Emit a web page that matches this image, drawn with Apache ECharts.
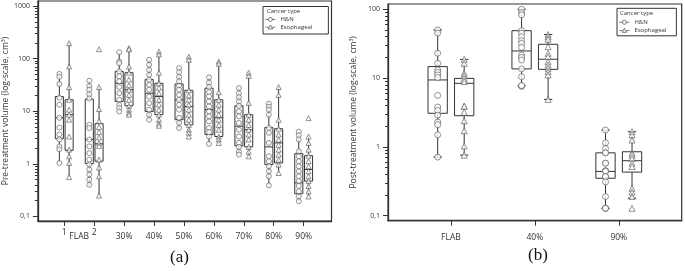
<!DOCTYPE html>
<html>
<head>
<meta charset="utf-8">
<script src="https://cdn.jsdelivr.net/npm/echarts@6/dist/echarts.min.js"></script>
<style>
  html, body { margin: 0; padding: 0; background: #fff; }
  #chart { width: 685px; height: 271px; }
</style>
</head>
<body>
<div id="chart"></div>
<script>
// categories
const catsA = ['FLAB 1', 'FLAB 2', '30%', '40%', '50%', '60%', '70%', '80%', '90%'];
const tickLabelsA = ['1', '2', '30%', '40%', '50%', '60%', '70%', '80%', '90%'];
const catsB = ['FLAB', '40%', '90%'];
const yTicksA = [0.1, 1, 10, 100, 1000];
const yTicksB = [0.1, 1, 10, 100];

// box stats: [low whisker, Q1, median, Q3, high whisker]
const preHN = [
  [1.04, 3.0, 7.5, 19, 51],
  [0.38, 1.01, 2.9, 17, 38],
  [9.9, 15.3, 34, 57, 132],
  [6.9, 9.9, 22, 40, 95],
  [4.8, 6.9, 16.5, 33, 66],
  [2.4, 3.6, 10.7, 27.4, 44],
  [1.5, 2.2, 5.2, 12.7, 27.5],
  [0.39, 0.97, 2.1, 4.9, 13.9],
  [0.195, 0.27, 0.435, 1.56, 4.1]
];
const preEso = [
  [0.56, 1.81, 8.6, 16.5, 201],
  [0.25, 1.12, 2.4, 5.8, 28.8],
  [8.6, 12.7, 25.6, 54, 158],
  [5.3, 8.6, 19, 34, 136],
  [3.3, 5.5, 12.3, 25, 109],
  [2.5, 3.3, 7.5, 16.5, 88],
  [1.39, 2.1, 4.45, 8.6, 54],
  [0.67, 1.04, 2.5, 4.65, 28.8],
  [0.24, 0.47, 0.78, 1.43, 3.3]
];
const postHN = [
  [0.71, 3.08, 9.4, 14.7, 50],
  [7.7, 13.6, 24.8, 48.9, 100],
  [0.128, 0.35, 0.44, 0.82, 1.76]
];
const postEso = [
  [0.76, 2.84, 8.4, 9.9, 18.7],
  [4.9, 13.4, 18.8, 31, 43],
  [0.18, 0.43, 0.63, 0.85, 1.66]
];

// individual patients
const preHNPts = [
  [51, 45, 33, 18, 13.3, 7.5, 4.9, 3.6, 2.9, 2.15, 1.9, 1.04],
  [38, 30, 25.6, 21, 17.5, 5.5, 4.8, 2.9, 2.15, 1.6, 1.2, 0.97, 0.78, 0.63, 0.5, 0.4],
  [132, 88, 82, 57, 46, 37, 29, 22, 16.5, 13.3, 11.5, 9.9],
  [95, 76, 61, 49, 39.6, 31.7, 25.6, 19, 14.2, 10.7, 8.6, 6.9],
  [66, 55, 45, 37, 30.5, 25.6, 20.5, 16.5, 13.3, 10.7, 7.5, 6, 4.8],
  [44, 35, 29, 23, 19.1, 15.3, 12.3, 9.9, 8, 6.4, 4.8, 4, 3.3, 2.4],
  [27.5, 22, 18.5, 15.3, 12.7, 9.9, 8, 6, 4.45, 3.3, 2.5, 2.1, 1.7, 1.5],
  [13.9, 12.2, 10.7, 8.6, 4.8, 3.9, 2.5, 1.39, 1.12, 0.9, 0.72, 0.58, 0.39],
  [4.1, 3.5, 2.9, 1.73, 1.39, 1.12, 0.9, 0.72, 0.58, 0.47, 0.38, 0.3, 0.24, 0.195]
];
const preEsoPts = [
  [196, 71, 28.8, 16.5, 10.7, 8.6, 6.9, 3.3, 1.86, 1.39, 1.04, 0.56],
  [151, 28.8, 11, 6.5, 5, 4, 3.2, 2.5, 2.2, 1.2, 0.85, 0.58, 0.25],
  [158, 150, 71, 54, 40, 31, 25.6, 20.5, 16.5, 12.7, 10.7, 9.3, 8.6],
  [136, 120, 54, 34, 28, 22, 16.5, 13.5, 10.7, 8.6, 6.9, 5.8, 5.3],
  [109, 95, 25, 19.7, 16.5, 13.3, 10.7, 8.6, 6.9, 5.5, 4.45, 3.9, 3.3],
  [88, 80, 23, 16.5, 13.3, 10.7, 8.6, 6.9, 5.5, 4.45, 3.3, 2.9, 2.5],
  [54, 47, 14.4, 8.6, 6.9, 5.5, 4.45, 3.6, 2.9, 2.1, 1.7, 1.39],
  [28.8, 20.5, 6.9, 4.65, 3.6, 2.9, 2.3, 1.86, 1.5, 1.2, 0.97, 0.67],
  [7.4, 3.3, 2.5, 1.86, 1.43, 1.12, 0.9, 0.72, 0.58, 0.47, 0.38, 0.3, 0.24]
];
const postHNPts = [
  [50, 45, 23, 16.4, 13.1, 12.1, 11.1, 10.2, 5.6, 3.8, 3.4, 2.9, 2.3, 2.1, 1.5, 0.71],
  [100, 89, 83, 49, 45, 40, 35, 32, 28, 21.7, 20, 18.3, 13.6, 10.5, 7.6, 7.7, 7.8],
  [1.76, 1.15, 0.95, 0.82, 0.82, 0.58, 0.58, 0.45, 0.45, 0.44, 0.37, 0.37, 0.31, 0.19, 0.128, 0.128, 0.128]
];
const postEsoPts = [
  [18.7, 16.4, 11.8, 10.8, 9.8, 8.9, 3.9, 3.9, 3.2, 2.4, 1.72, 1.03, 0.76],
  [43, 40, 36.7, 28.6, 22.9, 20.5, 17.3, 15.5, 13.9, 12.4, 11.1, 4.9],
  [1.66, 1.49, 1.26, 0.81, 0.76, 0.68, 0.58, 0.52, 0.25, 0.22, 0.19, 0.128]
];

const FONT = 'Open Sans';
const INK = '#333';

// minor log ticks 2..9 in each decade
function minorTicks(from, to) {
  const out = [];
  for (let d = from; d < to; d *= 10) {
    for (let k = 2; k <= 9; k++) out.push(+(d * k).toPrecision(3));
  }
  return out;
}

// box + whiskers via custom series
function boxRenderer(bw, cap) {
  return function (params, api) {
    const x = api.value(0);
    const px = (xx, v) => api.coord([xx, v]);
    const lo = px(x, api.value(1)), q1 = px(x, api.value(2)), md = px(x, api.value(3));
    const q3 = px(x, api.value(4)), hi = px(x, api.value(5));
    const l = px(x - bw / 2, 1)[0], r = px(x + bw / 2, 1)[0];
    const cl = px(x - cap / 2, 1)[0], cr = px(x + cap / 2, 1)[0];
    const st = { stroke: INK, lineWidth: 1, fill: null };
    const kids = [
      { type: 'line', shape: { x1: lo[0], y1: lo[1], x2: q1[0], y2: q1[1] }, style: st },
      { type: 'line', shape: { x1: q3[0], y1: q3[1], x2: hi[0], y2: hi[1] }, style: st },
      { type: 'rect', shape: { x: l, y: q3[1], width: r - l, height: q1[1] - q3[1] }, style: st },
      { type: 'line', shape: { x1: l, y1: md[1], x2: r, y2: md[1] }, style: st }
    ];
    if (cap > 0) {
      kids.push({ type: 'line', shape: { x1: cl, y1: lo[1], x2: cr, y2: lo[1] }, style: st });
      kids.push({ type: 'line', shape: { x1: cl, y1: hi[1], x2: cr, y2: hi[1] }, style: st });
    }
    return { type: 'group', children: kids };
  };
}

function boxData(stats, off) {
  return stats.map((s, i) => [i + 1 + off].concat(s));
}
function ptsData(pts, off) {
  const out = [];
  pts.forEach((arr, i) => arr.forEach(v => out.push([i + 1 + off, v])));
  return out;
}

const offA = 0.163, bwA = 0.27;
const offB = 0.158, bwB = 0.23;

const labelA = {};
tickLabelsA.forEach((t, i) => { labelA[i + 1] = (i < 2) ? t + '\n ' : t; });
labelA[1.5] = 'FLAB';

function yAxisPair(grid, ymin, ymax, ticks, minors, name, gap) {
  return [{
    type: 'log', gridIndex: grid, position: 'left', min: ymin, max: ymax,
    name: name, nameLocation: 'middle', nameGap: gap,
    nameTextStyle: { fontFamily: FONT, fontSize: 8.5, color: INK },
    axisLine: { show: true, lineStyle: { color: INK, width: 1.3 } },
    axisTick: { show: true, length: 5, customValues: ticks, lineStyle: { color: INK } },
    axisLabel: {
      customValues: ticks, margin: 8, fontFamily: FONT, fontSize: 7, color: INK,
      formatter: v => v < 0.5 ? '0,1' : String(Math.round(v))
    },
    splitLine: { show: false }
  }, {
    type: 'log', gridIndex: grid, position: 'left', min: ymin, max: ymax,
    axisLine: { show: false },
    axisTick: { show: true, length: 3, customValues: minors, lineStyle: { color: INK } },
    axisLabel: { show: false },
    splitLine: { show: false }
  }];
}

const ptStyle = { color: '#fff', borderColor: '#555', borderWidth: 0.8 };
const iconHN = 'path://M0,5L6,5M14,5L20,5M14,5A4,4,0,1,1,6,5A4,4,0,1,1,14,5Z';
const iconEso = 'path://M0,5.5L6.5,5.5M13.5,5.5L20,5.5M10,1L14.5,9L5.5,9Z';

function legendAt(left, top, padding, gap) {
  return {
    data: [{ name: 'H&N', icon: iconHN }, { name: 'Esophageal', icon: iconEso }],
    orient: 'vertical', left: left, top: top, padding: padding, itemGap: gap,
    itemWidth: 10, itemHeight: 5, borderColor: INK, borderWidth: 1,
    itemStyle: { color: '#fff', borderColor: INK, borderWidth: 0.8 },
    textStyle: { fontFamily: FONT, fontSize: 6, color: INK }
  };
}

const option = {
  animation: false,
  title: [
    { text: 'Cancer type', left: 267, top: 8, padding: 0, textStyle: { fontFamily: FONT, fontSize: 6, fontWeight: 'normal', color: INK } },
    { text: 'Cancer type', left: 620, top: 10.5, padding: 0, textStyle: { fontFamily: FONT, fontSize: 6, fontWeight: 'normal', color: INK } },
    { text: '(a)', left: 170, top: 249, padding: 0, textStyle: { fontFamily: 'Liberation Serif', fontSize: 17, fontWeight: 'normal', color: '#111' } },
    { text: '(b)', left: 528, top: 247, padding: 0, textStyle: { fontFamily: 'Liberation Serif', fontSize: 17, fontWeight: 'normal', color: '#111' } }
  ],
  legend: [
    legendAt(263, 6.5, [10, 16, 4, 2], 1.5),
    legendAt(617, 8.3, [11, 10, 2.5, 2], 2)
  ],
  grid: [
    { left: 35, right: 353.5, top: 1, bottom: 50, show: true, borderColor: INK, borderWidth: 1.2 },
    { left: 388, right: 3.3, top: 4, bottom: 50.3, show: true, borderColor: INK, borderWidth: 1.2 }
  ],
  xAxis: [
    {
      type: 'value', gridIndex: 0, min: 0.12, max: 9.93,
      axisLine: { show: true, onZero: false, lineStyle: { color: INK, width: 1.3 } },
      axisTick: { show: true, length: 5, customValues: catsA.map((c, i) => i + 1), lineStyle: { color: INK } },
      axisLabel: {
        customValues: [1, 1.5, 2, 3, 4, 5, 6, 7, 8, 9], margin: 16, verticalAlign: 'middle',
        lineHeight: 9, fontFamily: FONT, fontSize: 8.5, color: INK,
        formatter: v => labelA[v] || ''
      },
      splitLine: { show: false }
    },
    {
      type: 'value', gridIndex: 1, min: 0.25, max: 3.75,
      axisLine: { show: true, onZero: false, lineStyle: { color: INK, width: 1.3 } },
      axisTick: { show: true, length: 5, customValues: catsB.map((c, i) => i + 1), lineStyle: { color: INK } },
      axisLabel: {
        customValues: catsB.map((c, i) => i + 1), margin: 17, verticalAlign: 'middle',
        fontFamily: FONT, fontSize: 8.5, color: INK,
        formatter: v => catsB[Math.round(v) - 1] || ''
      },
      splitLine: { show: false }
    }
  ],
  yAxis: [].concat(
    yAxisPair(0, 0.082, 1245, yTicksA, minorTicks(0.1, 1000), 'Pre-treatment volume (log-scale, cm³)', 26),
    yAxisPair(1, 0.0846, 119.4, yTicksB, minorTicks(0.1, 100), 'Post-treatment volume (log-scale, cm³)', 30)
  ),
  series: [
    // panel (a)
    { type: 'custom', xAxisIndex: 0, yAxisIndex: 0, renderItem: boxRenderer(bwA, 0), data: boxData(preHN, -offA), encode: { x: 0, y: [1, 2, 3, 4, 5] }, z: 2 },
    { type: 'custom', xAxisIndex: 0, yAxisIndex: 0, renderItem: boxRenderer(bwA, 0), data: boxData(preEso, offA), encode: { x: 0, y: [1, 2, 3, 4, 5] }, z: 2 },
    { name: 'H&N', type: 'scatter', xAxisIndex: 0, yAxisIndex: 0, symbol: 'circle', symbolSize: 5, itemStyle: ptStyle, data: ptsData(preHNPts, -offA), z: 3 },
    { name: 'Esophageal', type: 'scatter', xAxisIndex: 0, yAxisIndex: 0, symbol: 'triangle', symbolSize: 5, itemStyle: ptStyle, data: ptsData(preEsoPts, offA), z: 3 },
    // panel (b)
    { type: 'custom', xAxisIndex: 1, yAxisIndex: 2, renderItem: boxRenderer(bwB, 0.1), data: boxData(postHN, -offB), encode: { x: 0, y: [1, 2, 3, 4, 5] }, z: 2 },
    { type: 'custom', xAxisIndex: 1, yAxisIndex: 2, renderItem: boxRenderer(bwB, 0.1), data: boxData(postEso, offB), encode: { x: 0, y: [1, 2, 3, 4, 5] }, z: 2 },
    { name: 'H&N', type: 'scatter', xAxisIndex: 1, yAxisIndex: 2, symbol: 'circle', symbolSize: 6, itemStyle: ptStyle, data: ptsData(postHNPts, -offB), z: 3 },
    { name: 'Esophageal', type: 'scatter', xAxisIndex: 1, yAxisIndex: 2, symbol: 'triangle', symbolSize: 6, itemStyle: ptStyle, data: ptsData(postEsoPts, offB), z: 3 }
  ]
};

const myChart = echarts.init(document.getElementById('chart'), null, { renderer: 'canvas' });
myChart.setOption(option);
</script>
</body>
</html>
